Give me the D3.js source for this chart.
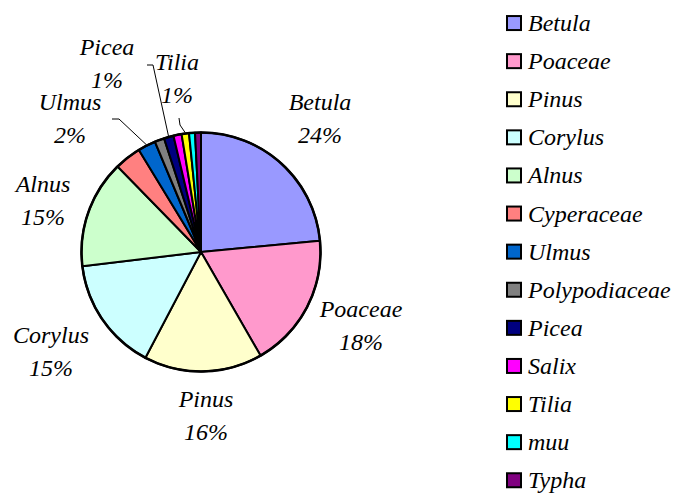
<!DOCTYPE html>
<html>
<head>
<meta charset="utf-8">
<script src="https://cdn.jsdelivr.net/npm/d3@7"></script>
<style>
  html, body { margin: 0; padding: 0; background: #fff; }
</style>
</head>
<body>
<div id="chart"></div>
<script>
// pollen taxa, share of the sum (%)
var taxa = ['Betula', 'Poaceae', 'Pinus', 'Corylus', 'Alnus', 'Cyperaceae', 'Ulmus',
            'Polypodiaceae', 'Picea', 'Salix', 'Tilia', 'muu', 'Typha'];
var shares = [23.5, 18.2, 16.0, 15.4, 14.6, 3.6, 2.4, 1.3, 1.3, 1.1, 1.0, 0.8, 0.8];
var colours = ['#9999FF', '#FF99CC', '#FFFFCC', '#CCFFFF', '#CCFFCC', '#FF8080', '#0066CC',
               '#808080', '#000080', '#FF00FF', '#FFFF00', '#00FFFF', '#800080'];
// only these slices carry a data label
var labelled = ['Betula', 'Poaceae', 'Pinus', 'Corylus', 'Alnus', 'Ulmus', 'Picea', 'Tilia'];

var width = 677, height = 493;
var cx = 201, cy = 252, radius = 119.5;

// label placement (first baseline) and leader start points
var labelPos = {
    Betula:  {x: 320, y: 110},
    Poaceae: {x: 361, y: 317},
    Pinus:   {x: 206, y: 407},
    Corylus: {x: 51,  y: 343},
    Alnus:   {x: 43,  y: 192},
    Ulmus:   {x: 70,  y: 110},
    Picea:   {x: 107, y: 55},
    Tilia:   {x: 177, y: 70}
};
var leaders = {
    Ulmus: [[112, 119], [119, 119]],
    Picea: [[147, 65], [153, 65]],
    Tilia: [[179, 118], [180, 125]]
};

var svg = d3.select('#chart').append('svg')
    .attr('width', width)
    .attr('height', height);

var serifText = function (sel) {
    sel.style('font-family', "'Liberation Serif'")
        .style('font-style', 'italic')
        .style('font-size', '24px')
        .attr('fill', '#000');
};

var data = taxa.map(function (t, i) { return {name: t, value: shares[i], color: colours[i]}; });

var pie = d3.pie().sort(null).value(function (d) { return d.value; });
var arcs = pie(data);
var arc = d3.arc().innerRadius(0).outerRadius(radius);

var g = svg.append('g').attr('transform', 'translate(' + cx + ',' + cy + ')');

g.selectAll('path.slice')
    .data(arcs)
    .enter().append('path')
    .attr('class', 'slice')
    .attr('d', arc)
    .attr('fill', function (d) { return d.data.color; })
    .attr('stroke', '#000')
    .attr('stroke-width', 2)
    .attr('stroke-linejoin', 'round');

g.append('circle')
    .attr('r', radius)
    .attr('fill', 'none')
    .attr('stroke', '#000')
    .attr('stroke-width', 2.5);

// leader lines end on the outer edge at the slice's mid angle
var edge = function (d, r) {
    var a = (d.startAngle + d.endAngle) / 2;
    return [cx + r * Math.sin(a), cy - r * Math.cos(a)];
};
arcs.forEach(function (d) {
    var pts = leaders[d.data.name];
    if (!pts) return;
    svg.append('path')
        .attr('d', d3.line()(pts.concat([edge(d, radius + 1)])))
        .attr('fill', 'none')
        .attr('stroke', '#000')
        .attr('stroke-width', 1);
});

var labels = svg.selectAll('g.label')
    .data(arcs.filter(function (d) { return labelled.indexOf(d.data.name) >= 0; }))
    .enter().append('g')
    .attr('class', 'label');
labels.append('text')
    .attr('x', function (d) { return labelPos[d.data.name].x; })
    .attr('y', function (d) { return labelPos[d.data.name].y; })
    .attr('text-anchor', 'middle')
    .call(serifText)
    .text(function (d) { return d.data.name; });
labels.append('text')
    .attr('x', function (d) { return labelPos[d.data.name].x; })
    .attr('y', function (d) { return labelPos[d.data.name].y + 33; })
    .attr('text-anchor', 'middle')
    .call(serifText)
    .text(function (d) { return Math.round(d.data.value) + '%'; });

// legend
var legendY = d3.scaleBand().domain(taxa).range([4, 4 + 38.1 * taxa.length]);
var legend = svg.selectAll('g.legend')
    .data(data)
    .enter().append('g')
    .attr('class', 'legend')
    .attr('transform', function (d) { return 'translate(507,' + (legendY(d.name) + legendY.bandwidth() / 2) + ')'; });
legend.append('rect')
    .attr('x', 0)
    .attr('y', -7)
    .attr('width', 14)
    .attr('height', 14)
    .attr('fill', function (d) { return d.color; })
    .attr('stroke', '#000')
    .attr('stroke-width', 2);
legend.append('text')
    .attr('x', 21)
    .attr('y', 8)
    .call(serifText)
    .text(function (d) { return d.name; });
</script>
</body>
</html>
